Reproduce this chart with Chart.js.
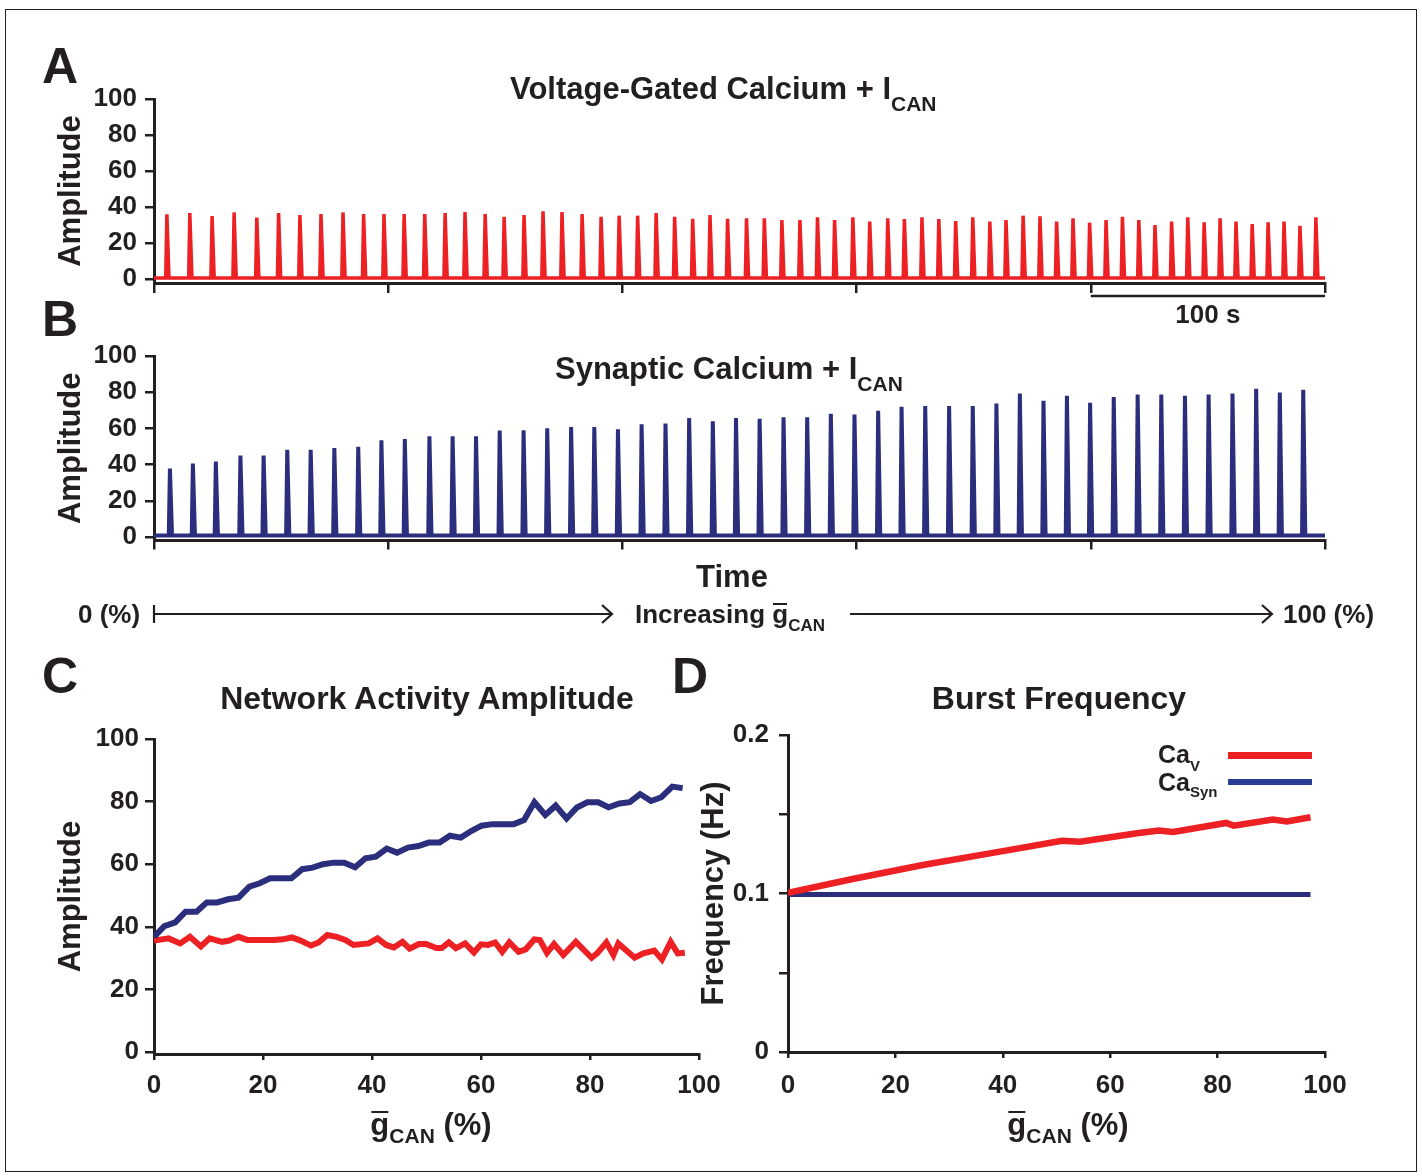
<!DOCTYPE html>
<html>
<head>
<meta charset="utf-8">
<title>I_CAN amplitude and frequency</title>
<script src="https://cdn.jsdelivr.net/npm/chart.js@4.4.1/dist/chart.umd.min.js"></script>
<style>
  html, body { margin: 0; padding: 0; background: #fff; }
  #page { position: relative; width: 1422px; height: 1176px; overflow: hidden;
          font-family: "Liberation Sans", Arial, sans-serif; font-weight: bold; color: #231f20; }
  .frame { position: absolute; left: 5px; top: 9px; width: 1412px; height: 1163px;
           border: 1.5px solid #231f20; box-sizing: border-box; }
  .panel { position: absolute; }
  .txt { position: absolute; line-height: 1; white-space: nowrap; z-index: 5; }
  .sb { position: relative; }
  .ov { position: relative; display: inline-block; }
  .ov::before { content: ""; position: absolute; left: 1px; right: 1px; top: 0.08em; border-top: 2px solid #231f20; }
  .key { position: absolute; z-index: 5; }
  svg { position: absolute; left: 0; top: 0; z-index: 4; }
</style>
</head>
<body>
<div id="page">
  <div class="frame"></div>
  <div class="panel" style="left:40px;top:60px;width:1300px;height:280px"><canvas id="chartA"></canvas></div>
  <div class="panel" style="left:40px;top:320px;width:1300px;height:240px"><canvas id="chartB"></canvas></div>
  <div class="panel" style="left:40px;top:700px;width:700px;height:420px"><canvas id="chartC"></canvas></div>
  <div class="panel" style="left:690px;top:700px;width:700px;height:420px"><canvas id="chartD"></canvas></div>
  <svg width="1422" height="1176">
    <g stroke="#231f20" stroke-width="2.2" fill="none">
      <line x1="154" y1="614" x2="611" y2="614"/>
      <line x1="154" y1="605" x2="154" y2="623"/>
      <polyline points="602,605 612,614 602,623"/>
      <line x1="850" y1="614" x2="1271" y2="614"/>
      <polyline points="1262,605 1272,614 1262,623"/>
    </g>
  </svg>
</div>
<script>
console.log("figure script starting.");

// ---- data ----

// panel A: voltage-gated calcium, burst peak times (s) and amplitudes
const peakTimesA = [5.5, 15.3, 24.8, 34.2, 43.9, 53.2, 62.3, 71.3, 80.7, 89.5,
  98.2, 106.8, 115.6, 124.3, 132.8, 141.4, 149.5, 158.0, 166.1, 174.2,
  182.8, 190.9, 198.6, 206.5, 214.4, 222.3, 230.0, 237.4, 244.9, 253.0,
  260.6, 268.1, 275.8, 283.3, 290.6, 298.4, 305.6, 313.3, 320.4, 327.9,
  335.1, 342.3, 349.6, 356.9, 363.8, 371.1, 378.3, 385.4, 392.4, 399.5,
  406.5, 413.5, 420.5, 427.4, 434.5, 441.4, 448.4, 455.2, 462.0, 468.9,
  475.7, 482.5, 489.3, 496.1];
const peakAmpsA = [35.9, 36.7, 35.0, 37.0, 34.1, 36.7, 35.6, 36.1, 37.0, 36.1,
  36.1, 36.1, 36.1, 36.7, 37.2, 36.1, 34.6, 35.6, 37.6, 37.2,
  36.1, 34.6, 35.2, 35.2, 36.7, 34.6, 33.5, 35.6, 33.5, 33.7,
  33.7, 32.8, 32.8, 34.3, 32.8, 34.3, 31.9, 33.7, 33.3, 34.3,
  33.3, 32.2, 34.3, 31.9, 32.8, 35.2, 34.8, 31.9, 33.7, 31.3,
  32.8, 34.6, 32.8, 30.0, 31.9, 34.3, 31.5, 33.7, 31.9, 30.6,
  31.5, 31.9, 29.6, 34.3];

// panel B: synaptic calcium
const peakTimesB = [6.8, 16.6, 26.4, 36.9, 46.8, 56.9, 66.9, 77.0, 87.2, 97.1,
  107.1, 117.6, 127.5, 137.5, 147.6, 157.8, 167.9, 178.1, 188.0, 198.1,
  208.2, 218.4, 228.5, 238.6, 248.5, 258.6, 268.8, 278.9, 289.0, 299.1,
  309.2, 319.2, 329.3, 339.5, 349.6, 359.7, 369.7, 379.8, 389.8, 399.7,
  409.8, 420.0, 430.1, 440.2, 450.3, 460.5, 470.6, 480.7, 490.7];
const peakAmpsB = [37.8, 40.6, 41.7, 45.0, 45.0, 48.2, 48.2, 49.1, 49.9, 53.4,
  54.1, 55.6, 55.6, 55.6, 58.8, 59.0, 60.1, 60.7, 60.7, 59.5,
  62.3, 62.7, 65.7, 64.0, 65.7, 65.3, 66.2, 66.2, 68.1, 67.7,
  69.8, 72.0, 72.4, 72.4, 72.4, 73.7, 79.3, 75.3, 78.0, 74.2,
  77.4, 78.7, 78.7, 78.0, 78.7, 79.3, 81.9, 79.8, 81.3];

// panel C: amplitude vs gCAN (%)
const gCanSynC = [0, 1.9, 3.9, 5.8, 7.8, 9.7, 11.6, 13.6, 15.5, 17.5,
  19.4, 21.3, 23.3, 25.2, 27.2, 29.1, 31.0, 33.0, 34.9, 36.9,
  38.8, 40.7, 42.7, 44.6, 46.6, 48.5, 50.4, 52.4, 54.3, 56.3,
  58.2, 60.1, 62.1, 64.0, 66.0, 67.9, 69.8, 71.8, 73.7, 75.7,
  77.6, 79.5, 81.5, 83.4, 85.4, 87.3, 89.2, 91.2, 93.1, 95.1, 97.0];
const ampSynC = [36.8, 40.2, 41.4, 44.8, 44.8, 47.8, 47.8, 48.8, 49.3, 52.8,
  53.9, 55.5, 55.5, 55.5, 58.4, 58.9, 60.0, 60.5, 60.5, 59.0,
  61.9, 62.4, 65.0, 63.7, 65.3, 65.8, 66.9, 66.9, 69.1, 68.5,
  70.6, 72.3, 72.8, 72.8, 72.8, 74.1, 79.8, 75.7, 78.7, 74.6,
  78.1, 79.8, 79.8, 78.2, 79.4, 79.8, 82.4, 80.2, 81.4, 84.8, 84.3];
const gCanVC = [0, 2.7, 4.8, 6.6, 8.6, 10.2, 12.5, 13.8, 15.5, 17.1,
  19.7, 22.0, 23.6, 25.3, 26.9, 28.8, 30.2, 31.8, 33.5, 35.1,
  36.6, 39.4, 41.0, 42.6, 44.0, 45.6, 46.9, 48.6, 49.9, 51.8,
  52.8, 54.1, 55.4, 57.1, 58.7, 60.0, 61.3, 62.6, 63.9, 65.2,
  66.9, 68.2, 69.8, 70.8, 72.1, 73.4, 75.1, 77.4, 80.3, 81.3,
  83.0, 84.3, 85.2, 88.2, 89.8, 91.8, 93.2, 94.8, 96.1, 97.4];
const ampVC = [35.6, 36.3, 34.7, 36.8, 33.7, 36.3, 35.2, 35.6, 36.8, 35.8,
  35.8, 35.8, 36.0, 36.6, 35.6, 34.0, 35.0, 37.4, 36.8, 35.8,
  34.2, 34.7, 36.3, 34.2, 33.4, 35.2, 33.0, 34.5, 34.5, 33.2,
  33.2, 35.0, 33.2, 34.7, 31.8, 34.4, 34.2, 35.0, 32.0, 35.0,
  32.0, 32.8, 36.0, 35.8, 31.7, 34.5, 31.0, 35.2, 30.1, 31.5,
  35.0, 31.0, 34.7, 30.1, 31.5, 32.4, 29.6, 35.2, 31.5, 31.7];

// panel D: burst frequency (Hz) vs gCAN (%)
const gCanVD = [0, 11.8, 25.1, 38.4, 51.0, 54.4, 65.0, 69.0, 71.7, 81.6, 83.0, 90.3, 92.9, 97.3];
const freqVD = [0.1005, 0.1090, 0.1180, 0.1258, 0.1333, 0.1326, 0.1380, 0.1398, 0.1388, 0.1445, 0.1428, 0.1466, 0.1455, 0.1481];
const gCanSynD = [0, 20, 40, 60, 80, 97.3];
const freqSynD = [0.0993, 0.0993, 0.0993, 0.0993, 0.0993, 0.0993];

// tick labels
const timeTicks = [0, 100, 200, 300, 400, 500];
const ampTicks = [0, 20, 40, 60, 80, 100];
const gCanTicks = [0, 20, 40, 60, 80, 100];
const freqTicks = [0, 0.05, 0.1, 0.15, 0.2];
const freqLabelled = [0, 0.1, 0.2];

// ---- styling ----
const ink = '#231f20';
const red = '#ed2024';
const navy = '#2b2e7c';
const fontFamily = '"Liberation Sans", Arial, sans-serif';
Chart.defaults.font.family = fontFamily;
Chart.defaults.font.weight = 'bold';
Chart.defaults.color = ink;

// spike shaped trace from peak times / heights
function spikeTrace(times, amps, base, end) {
  const pts = [{x: 0, y: base}];
  times.forEach((t, i) => {
    pts.push({x: t - 0.5, y: base});
    pts.push({x: t, y: amps[i]});
    pts.push({x: t + 0.9, y: base});
  });
  pts.push({x: end, y: base});
  return pts;
}
function pairs(xs, ys) {
  return xs.map((x, i) => ({x: x, y: ys[i]}));
}
function fixedY(width) {
  return s => { s.width = width; s.paddingTop = 0; s.paddingBottom = 0; };
}
function fixedX(height) {
  return s => { s.height = height; s.paddingLeft = 0; s.paddingRight = 0; };
}
function setTicks(list) {
  return s => { s.ticks = list.map(v => ({value: v})); };
}

function axisX(min, max, ticks, height, opts) {
  return {
    type: 'linear', min: min, max: max,
    afterBuildTicks: setTicks(ticks),
    afterFit: fixedX(height),
    border: {display: true, color: ink, width: 3},
    grid: {drawOnChartArea: false, drawTicks: true, tickLength: opts.tickLength, color: ink, lineWidth: 2.5},
    ticks: {
      display: true, maxRotation: 0, autoSkip: false, padding: opts.padding || 0,
      font: {size: 26, weight: 'bold'}, color: ink,
      callback: opts.labels ? (v => String(v)) : (() => '')
    }
  };
}
function axisY(min, max, ticks, width, title, titlePad, labelPad, fmt) {
  return {
    type: 'linear', min: min, max: max,
    afterBuildTicks: setTicks(ticks),
    afterFit: fixedY(width),
    border: {display: true, color: ink, width: 3},
    grid: {drawOnChartArea: false, drawTicks: true, tickLength: 9, color: ink, lineWidth: 2.5},
    ticks: {padding: labelPad, autoSkip: false, font: {size: 26, weight: 'bold'}, color: ink,
            callback: fmt || (v => String(v))},
    title: {display: true, text: title, color: ink,
            font: {size: 31, weight: 'bold'}, padding: {top: titlePad, bottom: 0}}
  };
}

// scale bar under panel A
const scaleBarFrom = 400, scaleBarTo = 500;
const scaleBar = {
  id: 'scaleBar',
  afterDraw(chart) {
    const ctx = chart.ctx, xs = chart.scales.x;
    const x0 = xs.getPixelForValue(scaleBarFrom), x1 = xs.getPixelForValue(scaleBarTo);
    const y = chart.chartArea.bottom + 13;
    ctx.save();
    ctx.strokeStyle = ink;
    ctx.lineWidth = 2.5;
    ctx.beginPath();
    ctx.moveTo(x0, y);
    ctx.lineTo(x1, y);
    ctx.stroke();
    ctx.fillStyle = ink;
    ctx.font = 'bold 26px ' + fontFamily;
    ctx.textAlign = 'center';
    ctx.textBaseline = 'alphabetic';
    ctx.fillText('100 s', (x0 + x1) / 2, y + 27);
    ctx.restore();
  }
};

const common = {
  responsive: true,
  maintainAspectRatio: false,
  animation: false,
  plugins: {legend: {display: false}, tooltip: {enabled: false}},
  elements: {point: {radius: 0}, line: {tension: 0}}
};

// Panel A
new Chart(document.getElementById('chartA').getContext('2d'), {
  type: 'line',
  data: {datasets: [{
    label: 'CaV', data: spikeTrace(peakTimesA, peakAmpsA, 0.6, 500),
    borderColor: red, borderWidth: 3.5, fill: false
  }]},
  options: Object.assign({}, common, {
    layout: {padding: {left: 0, right: 15, top: 39, bottom: 0}},
    scales: {
      x: axisX(0, 500, timeTicks, 57, {tickLength: 10}),
      y: axisY(-2.2, 100, ampTicks, 114, 'Amplitude', 13, 8)
    }
  }),
  plugins: [scaleBar]
});

// Panel B
new Chart(document.getElementById('chartB').getContext('2d'), {
  type: 'line',
  data: {datasets: [{
    label: 'CaSyn', data: spikeTrace(peakTimesB, peakAmpsB, 0.8, 500),
    borderColor: navy, borderWidth: 4, fill: false
  }]},
  options: Object.assign({}, common, {
    layout: {padding: {left: 0, right: 15, top: 36, bottom: 0}},
    scales: {
      x: axisX(0, 500, timeTicks, 19.5, {tickLength: 9}),
      y: axisY(-1.93, 100, ampTicks, 114, 'Amplitude', 13, 8)
    }
  })
});

// Panel C
new Chart(document.getElementById('chartC').getContext('2d'), {
  type: 'line',
  data: {datasets: [
    {label: 'CaSyn', data: pairs(gCanSynC, ampSynC), borderColor: navy, borderWidth: 6, fill: false},
    {label: 'CaV', data: pairs(gCanVC, ampVC), borderColor: red, borderWidth: 6, fill: false}
  ]},
  options: Object.assign({}, common, {
    layout: {padding: {left: 0, right: 41, top: 39, bottom: 0}},
    scales: {
      x: axisX(0, 100, gCanTicks, 66, {tickLength: 6, padding: 10, labels: true}),
      y: axisY(-0.64, 100, ampTicks, 114, 'Amplitude', 13, 6)
    }
  })
});

// Panel D
new Chart(document.getElementById('chartD').getContext('2d'), {
  type: 'line',
  data: {datasets: [
    {label: 'CaV', data: pairs(gCanVD, freqVD), borderColor: red, borderWidth: 6.5, fill: false},
    {label: 'CaSyn', data: pairs(gCanSynD, freqSynD), borderColor: navy, borderWidth: 5, fill: false}
  ]},
  options: Object.assign({}, common, {
    layout: {padding: {left: 0, right: 65, top: 35, bottom: 0}},
    scales: {
      x: axisX(0, 100, gCanTicks, 68, {tickLength: 6, padding: 12, labels: true}),
      y: axisY(0, 0.2, freqTicks, 98, 'Frequency (Hz)', 6, 10,
               v => freqLabelled.includes(v) ? String(v) : '')
    }
  })
});

// ---- text overlays (subscripts / overbars) ----
const page = document.getElementById('page');
function label(html, x, base, size, align) {
  const d = document.createElement('div');
  d.className = 'txt';
  d.innerHTML = html;
  d.style.fontSize = size + 'px';
  d.style.top = (base - 0.8465 * size) + 'px';
  d.style.left = x + 'px';
  if (align === 'center') d.style.transform = 'translateX(-50%)';
  page.appendChild(d);
}
function sub(text, size, drop) {
  return '<span class="sb" style="font-size:' + size + 'px;top:' + drop + 'px">' + text + '</span>';
}
function key(color, x, y, w, h) {
  const d = document.createElement('div');
  d.className = 'key';
  d.style.cssText = 'left:' + x + 'px;top:' + y + 'px;width:' + w + 'px;height:' + h + 'px;background:' + color;
  page.appendChild(d);
}
const gCan = '<span class="ov">g</span>';

label('A', 42, 83, 50);
label('B', 42, 336, 50);
label('C', 42, 693, 50);
label('D', 672, 693, 50);
label('Voltage-Gated Calcium + I' + sub('CAN', 21, 12), 510, 99, 31);
label('Synaptic Calcium + I' + sub('CAN', 21, 12), 555, 379, 31);
label('Time', 732, 587, 31, 'center');
label('0 (%)', 78, 623, 26);
label('Increasing ' + gCan + sub('CAN', 17, 8), 635, 623, 26);
label('100 (%)', 1283, 623, 26);
label('Network Activity Amplitude', 427, 709, 32, 'center');
label('Burst Frequency', 1059, 709, 32, 'center');
label(gCan + sub('CAN', 21, 8) + ' (%)', 431, 1135, 31, 'center');
label(gCan + sub('CAN', 21, 8) + ' (%)', 1068, 1135, 31, 'center');
label('Ca' + sub('V', 15, 8), 1158, 763, 25);
label('Ca' + sub('Syn', 15, 6), 1158, 791, 25);
key(red, 1228, 752, 84, 6.5);
key('#283c96', 1228, 779, 84, 6);

console.log("figure script loaded.");
</script>
</body>
</html>
